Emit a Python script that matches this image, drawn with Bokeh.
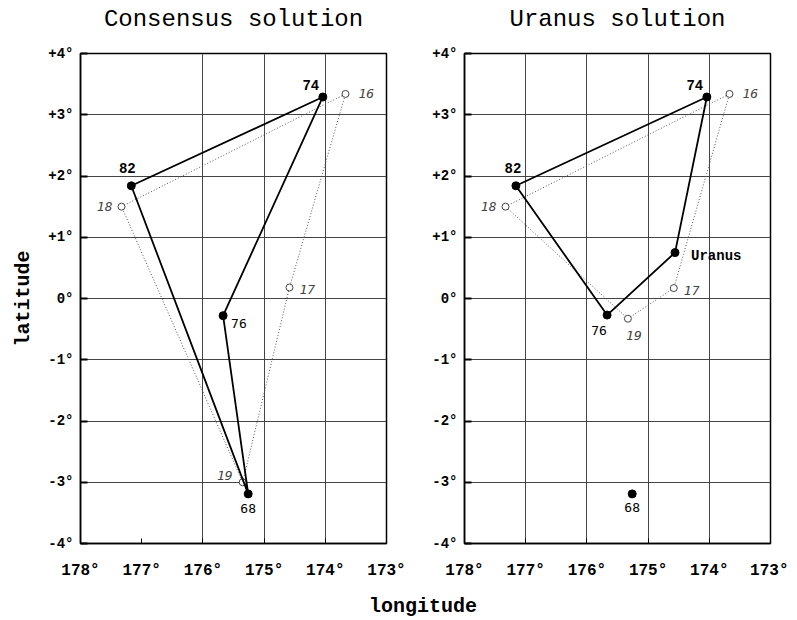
from bokeh.plotting import figure
from bokeh.models import Range1d, FixedTicker, Div, Title
from bokeh.layouts import row, column
from bokeh.embed import file_html
from bokeh.resources import INLINE
from bokeh.core.properties import value

# ---------------- data ----------------
x_ticks = [178, 177, 176, 175, 174, 173]
x_tick_labels = ["178°", "177°", "176°", "175°", "174°", "173°"]
y_ticks = [4, 3, 2, 1, 0, -1, -2, -3, -4]
y_tick_labels = ["+4°", "+3°", "+2°", "+1°", "0°", "-1°", "-2°", "-3°", "-4°"]

# consensus solution (solid polygon)
cons_names = ["82", "74", "76", "68"]
cons_lon = [177.17, 174.04, 175.67, 175.26]
cons_lat = [1.84, 3.29, -0.28, -3.19]

# Uranus solution (solid polygon)
ur_names = ["82", "74", "Uranus", "76"]
ur_lon = [177.16, 174.04, 174.56, 175.67]
ur_lat = [1.84, 3.29, 0.75, -0.27]
ur_extra_names = ["68"]
ur_extra_lon = [175.26]
ur_extra_lat = [-3.19]

# open (dotted) polygons
open_names = ["18", "16", "17", "19"]
cons_open_lon = [177.33, 173.67, 174.585, 175.35]
cons_open_lat = [1.50, 3.34, 0.18, -3.00]
ur_open_lon = [177.33, 173.67, 174.58, 175.33]
ur_open_lat = [1.50, 3.34, 0.17, -0.33]

MONO = "Liberation Mono"
SMONO = "DejaVu Sans Mono"

# label offsets (screen px, y downward) and alignment
left_solid_style = {
    "82": (-4, -18, "center"), "74": (-12, -12, "center"),
    "76": (8, 8, "left"), "68": (0, 15, "center"),
}
right_solid_style = {
    "82": (-3, -18, "center"), "74": (-12, -12, "center"),
    "Uranus": (16, 3, "left"), "76": (-8, 15, "center"), "68": (0, 14, "center"),
}
left_open_style = {
    "18": (-9, 0, "right"), "16": (13, 0, "left"),
    "17": (10, 2, "left"), "19": (-10, -7, "right"),
}
right_open_style = {
    "18": (-9, 0, "right"), "16": (13, 0, "left"),
    "17": (10, 2, "left"), "19": (6, 17, "center"),
}


def make_panel(title, grid_x, left_border, right_border, show_ylabel):
    p = figure(frame_width=306, frame_height=490,
               x_range=Range1d(178, 173), y_range=Range1d(-4, 4),
               output_backend="svg", toolbar_location=None,
               min_border_left=left_border, min_border_right=right_border,
               min_border_top=10, min_border_bottom=45)
    # spacer between title and frame
    p.add_layout(Title(text=" ", text_font_size="2px", standoff=14), "above")
    p.title.text = title
    p.title.align = "center"
    p.title.text_font = MONO
    p.title.text_font_size = "24px"
    p.title.text_font_style = "normal"
    p.title.text_color = "black"
    p.title.standoff = 6

    p.outline_line_color = "black"
    p.outline_line_width = 1.5

    p.xaxis.ticker = FixedTicker(ticks=x_ticks)
    p.xaxis.major_label_overrides = {t: l for t, l in zip(x_ticks, x_tick_labels)}
    p.yaxis.ticker = FixedTicker(ticks=y_ticks)
    p.yaxis.major_label_overrides = {t: l for t, l in zip(y_ticks, y_tick_labels)}
    for ax in (p.xaxis[0], p.yaxis[0]):
        ax.major_label_text_font = MONO
        ax.major_label_text_font_style = "bold"
        ax.major_label_text_color = "black"
        ax.minor_tick_line_color = None
        ax.major_tick_out = 0
        ax.major_tick_line_color = "black"
        ax.axis_line_color = "black"
        ax.axis_line_width = 1.5
    p.xaxis.major_label_text_font_size = "16px"
    p.yaxis.major_label_text_font_size = "14px"
    p.xaxis.major_tick_in = 5
    p.yaxis.major_tick_in = 7
    p.yaxis.major_tick_line_width = 2
    p.xaxis.major_label_standoff = 18
    p.yaxis.major_label_standoff = 7
    if show_ylabel:
        p.yaxis.axis_label = "latitude"
        p.yaxis.axis_label_text_font = MONO
        p.yaxis.axis_label_text_font_style = "bold"
        p.yaxis.axis_label_text_font_size = "20px"
        p.yaxis.axis_label_text_color = "black"
        p.yaxis.axis_label_standoff = 10

    p.xgrid.ticker = FixedTicker(ticks=grid_x)
    p.ygrid.ticker = FixedTicker(ticks=[3, 2, 1, 0, -1, -2, -3])
    p.xgrid.grid_line_color = "#444444"
    p.ygrid.grid_line_color = "#444444"
    p.xgrid.grid_line_width = 1
    p.ygrid.grid_line_width = 1
    return p


def draw(p, s_names, s_lon, s_lat, o_lon, o_lat, s_style, o_style,
         x_names=(), x_lon=(), x_lat=()):
    # dotted polygon
    p.line(list(o_lon) + [o_lon[0]], list(o_lat) + [o_lat[0]],
           line_color="#555555", line_width=1, line_dash="1 2")
    p.scatter(o_lon, o_lat, size=7, marker="circle", fill_color="white",
              line_color="#444444", line_width=1)
    # solid polygon
    p.line(list(s_lon) + [s_lon[0]], list(s_lat) + [s_lat[0]],
           line_color="black", line_width=1.8)
    p.scatter(list(s_lon) + list(x_lon), list(s_lat) + list(x_lat), size=8,
              marker="circle", fill_color="black", line_color="black")
    # labels of solid points
    for n, lo, la in zip(list(s_names) + list(x_names),
                         list(s_lon) + list(x_lon), list(s_lat) + list(x_lat)):
        dx, dy, al = s_style[n]
        bold = n in ("82", "74", "Uranus")
        p.text([lo], [la], text=[n], x_offset=dx, y_offset=dy,
               text_align=al, text_baseline="middle",
               text_font=value(MONO if bold else SMONO),
               text_font_style="bold" if bold else "normal",
               text_font_size="14px" if bold else "13px", text_color="black")
    for n, lo, la in zip(open_names, o_lon, o_lat):
        dx, dy, al = o_style[n]
        p.text([lo], [la], text=[n], x_offset=dx, y_offset=dy,
               text_align=al, text_baseline="middle",
               text_font=value(SMONO), text_font_style="italic",
               text_font_size="13px", text_color="#444444")


p1 = make_panel("Consensus solution", [176, 175, 174], 80, 20, True)
draw(p1, cons_names, cons_lon, cons_lat, cons_open_lon, cons_open_lat,
     left_solid_style, left_open_style)

p2 = make_panel("Uranus solution", [177, 176, 175, 174], 58, 18, False)
draw(p2, ur_names, ur_lon, ur_lat, ur_open_lon, ur_open_lat,
     right_solid_style, right_open_style, ur_extra_names, ur_extra_lon, ur_extra_lat)

xlabel = Div(text="longitude", width=780, height=26,
             styles={"font-family": MONO, "font-weight": "bold",
                     "font-size": "20px", "padding-left": "364px",
                     "margin-top": "5px", "color": "black"})

layout = column(row(p1, p2), xlabel)
open("out.html", "w").write(file_html(layout, INLINE))
